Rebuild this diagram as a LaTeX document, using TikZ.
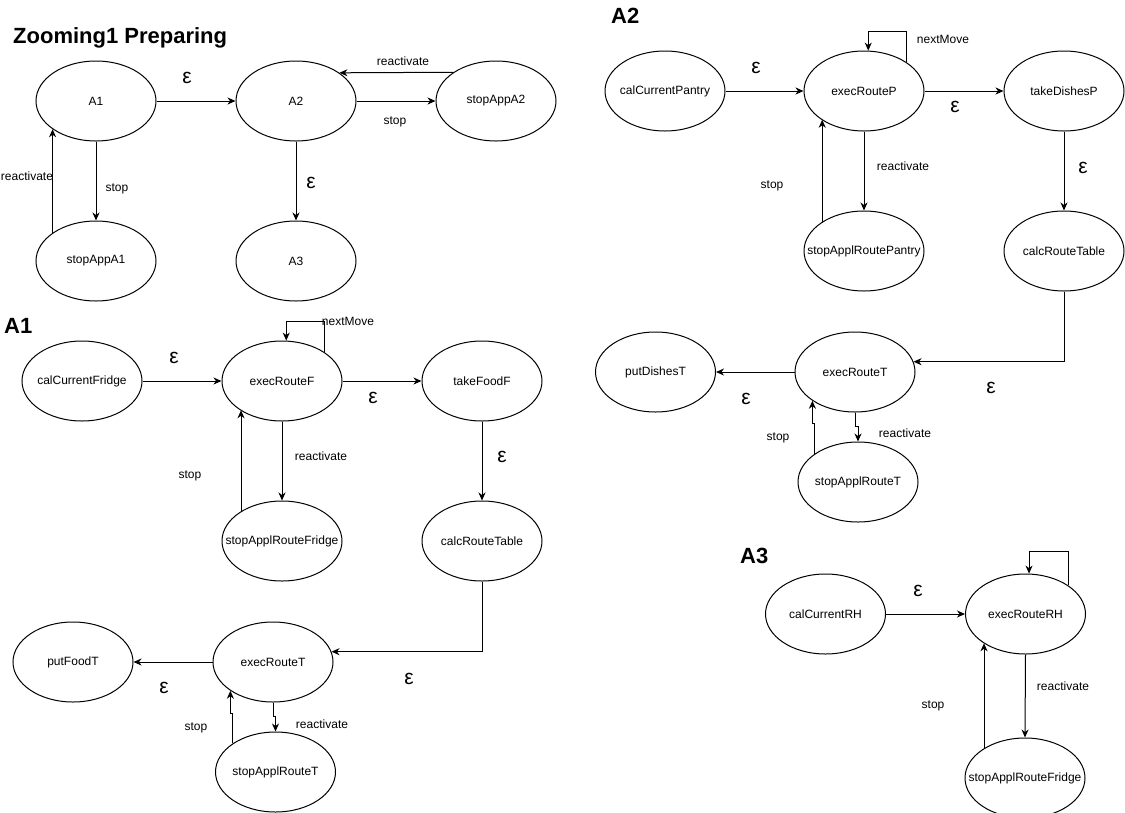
\documentclass[tikz,border=0pt]{standalone}
\usepackage{fontspec}
\setmainfont{Liberation Sans}
\usetikzlibrary{shapes.geometric,arrows.meta}
\begin{document}
\begin{tikzpicture}[x=1pt,y=-1pt,
  state/.style={draw,ellipse,line width=1pt,minimum width=120pt,minimum height=80pt,inner sep=0pt,
    font=\fontsize{12}{14}\selectfont,
    execute at begin node={\hbox to 0pt\bgroup\hss},
    execute at end node={\hss\egroup}},
  conn/.style={line width=1pt,-{Stealth[length=8pt,width=7pt,inset=2.5pt]}},
  lbl/.style={inner sep=0pt,font=\fontsize{12}{14}\selectfont},
  eps/.style={inner sep=0pt,font=\fontsize{21}{24}\selectfont},
  head/.style={inner sep=0pt,anchor=base west,font=\fontsize{22}{26}\selectfont\bfseries}]
\useasboundingbox (0,0) rectangle (1125,812);

% ---------- overview ----------
\node[head] (title) at (13,43) {Zooming1 Preparing};
\node[state] (A1) at (96,101) {A1};
\node[state] (A2) at (296,101) {A2};
\node[state] (sA2) at (496,101) {stopAppA2};
\node[state] (sA1) at (96,261) {stopAppA1};
\node[state] (A3) at (296,261) {A3};

\draw[conn] (A1.east) -- (A2.west);
\draw[conn] (A2.east) -- (sA2.west);
\draw[conn] (sA2.146.8) -- (A2.33.2);
\draw[conn] (A1.south) -- (sA1.north);
\draw[conn] (sA1.147) -- (sA1.147 |- A1.213);
\draw[conn] (A2.south) -- (A3.north);

\node[eps] (e01) at (187,78) {ε};
\node[lbl] (l01) at (395,122) {stop};
\node[lbl] (l02) at (403,61) {reactivate};
\node[lbl] (l03) at (117,189) {stop};
\node[lbl] (l04) at (27,176) {reactivate};
\node[eps] (e02) at (311,183) {ε};

% ---------- A1 ----------
\node[head] (h1) at (4,333) {A1};
\node[state] (cF) at (82,381) {calCurrentFridge};
\node[state] (eF) at (282,381) {execRouteF};
\node[state] (tF) at (482,381) {takeFoodF};
\node[state] (sF) at (282,541) {stopApplRouteFridge};
\node[state] (crT) at (482,541) {calcRouteTable};
\node[state] (pF) at (73,662) {putFoodT};
\node[state] (eT) at (273,662) {execRouteT};
\node[state] (sT) at (275.5,772) {stopApplRouteT};

\draw[conn] (cF.east) -- (eF.west);
\draw[conn] (eF.east) -- (tF.west);
\draw[conn] (eF.34.2) -- ++(0,-30.6) -| (eF.84.3);
\draw[conn] (eF.south) -- (sF.north);
\draw[conn] (sF.144.5) -- (sF.144.5 |- eF.215.5);
\draw[conn] (tF.south) -- (crT.north);
\draw[conn] (crT.south) |- (eT.10.8);
\draw[conn] (eT.west) -- (pF.east);
\draw[conn] (eT.south) -- ++(0,14) -| (sT.north);
\draw[conn] (sT.146.4) -- ++(0,-30) -| (eT.214.2);

\node[eps] (e11) at (174,358) {ε};
\node[eps] (e12) at (373,398) {ε};
\node[lbl] (l11) at (348,321) {nextMove};
\node[lbl] (l12) at (321,456) {reactivate};
\node[lbl] (l13) at (190,476) {stop};
\node[eps] (e13) at (502,457) {ε};
\node[eps] (e14) at (409,679) {ε};
\node[eps] (e15) at (164,688) {ε};
\node[lbl] (l14) at (322,724) {reactivate};
\node[lbl] (l15) at (196,728) {stop};

% ---------- A2 ----------
\node[head] (h2) at (611,23) {A2};
\node[state] (cP) at (665,91) {calCurrentPantry};
\node[state] (eP) at (864,91) {execRouteP};
\node[state] (tD) at (1064,91) {takeDishesP};
\node[state] (sP) at (864,251) {stopApplRoutePantry};
\node[state] (crT2) at (1064,251) {calcRouteTable};
\node[state] (pD) at (655.5,372) {putDishesT};
\node[state] (eT2) at (855,372) {execRouteT};
\node[state] (sT2) at (858,482) {stopApplRouteT};

\draw[conn] (cP.east) -- (eP.west);
\draw[conn] (eP.east) -- (tD.west);
\draw[conn] (eP.34.2) -- ++(0,-30.4) -| (eP.84.3);
\draw[conn] (eP.south) -- (sP.north);
\draw[conn] (sP.145.8) -- (sP.145.8 |- eP.214.2);
\draw[conn] (tD.south) -- (crT2.north);
\draw[conn] (crT2.south) |- (eT2.10.8);
\draw[conn] (eT2.west) -- (pD.east);
\draw[conn] (eT2.south) -- ++(0,14) -| (sT2.north);
\draw[conn] (sT2.147) -- ++(0,-30) -| (eT2.214.8);

\node[eps] (e21) at (756,68) {ε};
\node[eps] (e22) at (955,107) {ε};
\node[lbl] (l21) at (943,39) {nextMove};
\node[lbl] (l22) at (903,166) {reactivate};
\node[lbl] (l23) at (772,186) {stop};
\node[eps] (e23) at (1083,168) {ε};
\node[eps] (e24) at (991,388) {ε};
\node[eps] (e25) at (746,399) {ε};
\node[lbl] (l24) at (905,433) {reactivate};
\node[lbl] (l25) at (778,438) {stop};

% ---------- A3 ----------
\node[head] (h3) at (740,563) {A3};
\node[state] (cR) at (825.5,614) {calCurrentRH};
\node[state] (eR) at (1025.5,614) {execRouteRH};
\node[state] (sR) at (1025,778) {stopApplRouteFridge};

\draw[conn] (cR.east) -- (eR.west);
\draw[conn] (eR.34.8) -- ++(0,-34) -| (eR.85);
\draw[conn] (eR.south) -- (sR.north);
\draw[conn] (sR.144.5) -- (sR.144.5 |- eR.215.5);

\node[eps] (e31) at (918,591) {ε};
\node[lbl] (l31) at (1063,686) {reactivate};
\node[lbl] (l32) at (933,706) {stop};
\end{tikzpicture}
\end{document}
